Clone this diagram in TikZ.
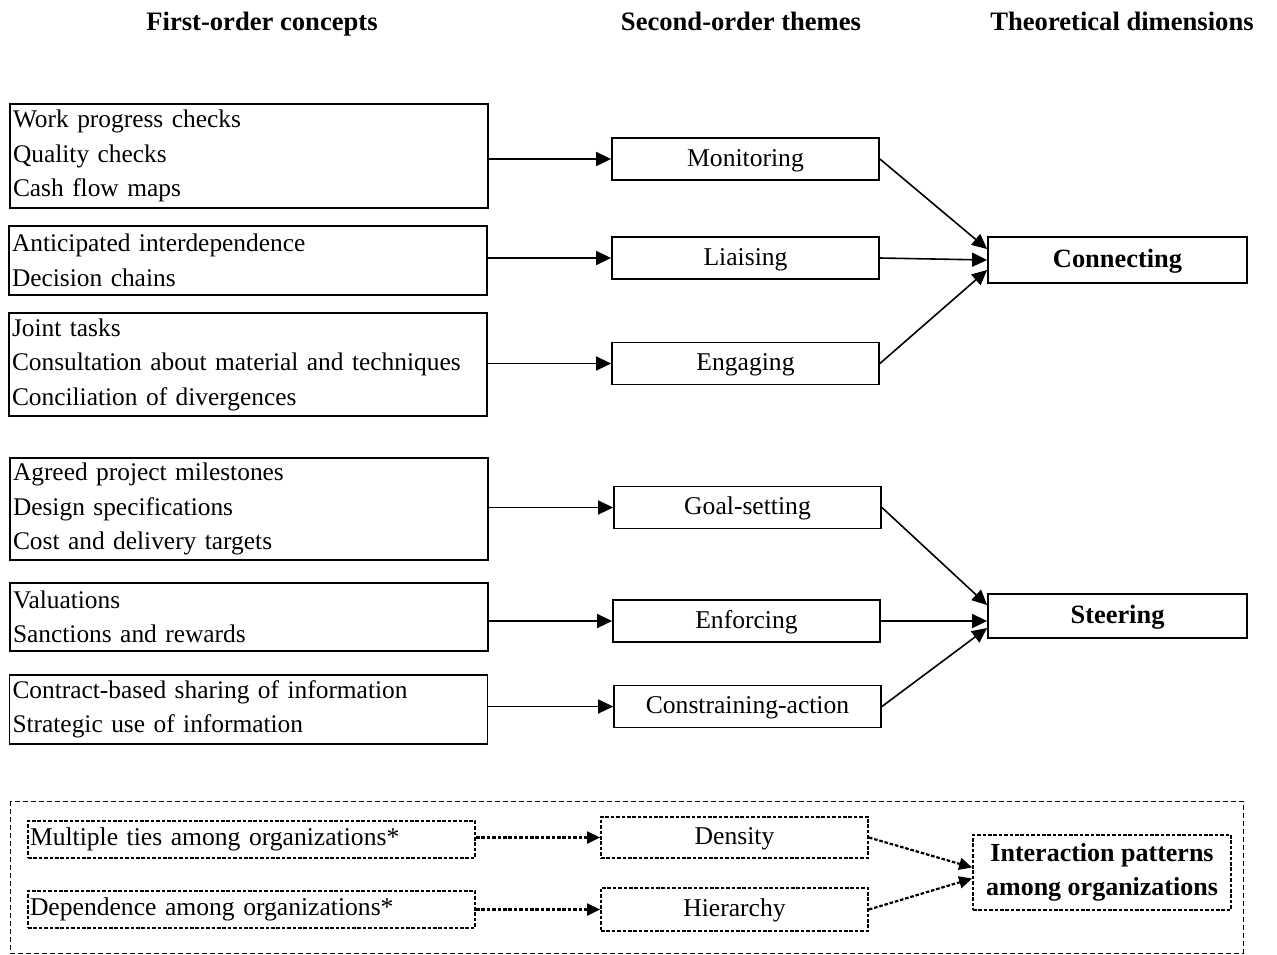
\documentclass[tikz,border=0pt]{standalone}
\usepackage{fontspec}
\setmainfont{Liberation Serif}
\usetikzlibrary{arrows.meta}
\colorlet{box edge}{black}
\tikzset{concept/.style={draw=box edge, line width=0.9pt, align=left, text width=236pt, inner xsep=1.5pt, inner ysep=0pt, font=\fontsize{12.7}{17.25}\selectfont},
	theme/.style={draw=box edge, line width=0.9pt, minimum width=133.5pt, minimum height=21pt, inner sep=0pt, text height=9pt, text depth=2pt, font=\fontsize{12.8}{14}\selectfont},
	dimension/.style={draw=box edge, line width=0.9pt, minimum width=129.5pt, minimum height=23pt, inner sep=0pt, text height=9pt, text depth=2pt, font=\fontsize{13.2}{14}\selectfont\bfseries},
	header/.style={text height=9pt, text depth=2pt, font=\fontsize{13.3}{15}\selectfont\bfseries},
	dotted box/.style={draw=box edge, line width=0.9pt, dash pattern=on 1.8pt off 0.9pt},
	link/.style={line width=0.8pt, -{Triangle[length=7.5pt,width=7pt]}},
	dotted link/.style={line width=1.1pt, dash pattern=on 1.8pt off 0.9pt, -{Triangle[length=6.5pt,width=6pt]}}}

\begin{document}
\begin{tikzpicture}[x=0.5pt, y=-0.5pt]
		\useasboundingbox (0,0) rectangle (1277,954);
		\node[header] (h1) at (262,23) {First-order concepts};
		\node[header] (h2) at (741,23) {Second-order themes};
		\node[header] (h3) at (1122,23) {Theoretical dimensions};
		
		\node[concept, minimum height=52pt] (c1) at (249,156) {Work progress checks\\Quality checks\\Cash flow maps};
		\node[concept, minimum height=34.5pt] (c2) at (248,260.5) {Anticipated interdependence\\Decision chains};
		\node[concept, minimum height=51.5pt] (c3) at (248,364.5) {Joint tasks\\Consultation about material and techniques\\Conciliation of divergences};
		\node[concept, minimum height=51pt] (c4) at (249,509) {Agreed project milestones\\Design specifications\\Cost and delivery targets};
		\node[concept, minimum height=34pt] (c5) at (249,617) {Valuations\\Sanctions and rewards};
		\node[concept, minimum height=34.5pt] (c6) at (248.5,709.5) {Contract-based sharing of information\\Strategic use of information};
		
		\node[theme] (t1) at (745.5,159) {Monitoring};
		\node[theme] (t2) at (745.5,258) {Liaising};
		\node[theme] (t3) at (745.5,363.5) {Engaging};
		\node[theme] (t4) at (747.5,507.5) {Goal-setting};
		\node[theme] (t5) at (746.5,621) {Enforcing};
		\node[theme] (t6) at (747.5,706.5) {Constraining-action};
		
		\node[dimension] (connecting) at (1117.5,260) {Connecting};
		\node[dimension, minimum height=22pt] (steering) at (1117.5,616) {Steering};
		
		\foreach \i in {1,...,6}
			\draw[link] (c\i.east |- t\i.west) -- (t\i.west);
		
		\draw[link] (t1.east) -- ([yshift=5.5pt]connecting.west);
		\draw[link] (t2.east) -- (connecting.west);
		\draw[link] (t3.east) -- ([yshift=-5pt]connecting.west);
		\draw[link] (t4.east) -- ([yshift=5.5pt]steering.west);
		\draw[link] (t5.east) -- (steering.west |- t5.east);
		\draw[link] (t6.east) -- ([yshift=-6pt]steering.west);
		
		\draw[box edge, line width=0.5pt, dash pattern=on 2.5pt off 1.5pt] (10,801) rectangle (1243,953);
		\node[dotted box, align=left, text width=221.5pt, minimum height=18.5pt, inner xsep=1pt, inner ysep=0pt, font=\fontsize{12.8}{14}\selectfont] (d1) at (251.5,839.5) {Multiple ties among organizations*};
		\node[dotted box, align=left, text width=221.5pt, minimum height=18.5pt, inner xsep=1pt, inner ysep=0pt, font=\fontsize{12.8}{14}\selectfont] (d2) at (251.5,909.5) {Dependence among organizations*};
		\node[dotted box, minimum width=133.5pt, minimum height=20.5pt, inner sep=0pt, text height=9pt, text depth=2pt, font=\fontsize{12.8}{14}\selectfont] (density) at (734.5,837.5) {Density};
		\node[dotted box, minimum width=133.5pt, minimum height=21.5pt, inner sep=0pt, text height=9pt, text depth=2pt, font=\fontsize{12.8}{14}\selectfont] (hierarchy) at (734.5,909.5) {Hierarchy};
		\node[dotted box, align=center, minimum width=129pt, minimum height=37.5pt, inner sep=0pt, font=\fontsize{13}{17}\selectfont\bfseries] (patterns) at (1102,872.5) {Interaction patterns\\among organizations};
		
		\draw[dotted link] (d1.east |- density.west) -- (density.west);
		\draw[dotted link] (d2.east) -- (hierarchy.west |- d2.east);
		\draw[dotted link] (density.east) -- ([yshift=2.5pt]patterns.west);
		\draw[dotted link] (hierarchy.east) -- ([yshift=-3pt]patterns.west);
		\end{tikzpicture}
\end{document}
